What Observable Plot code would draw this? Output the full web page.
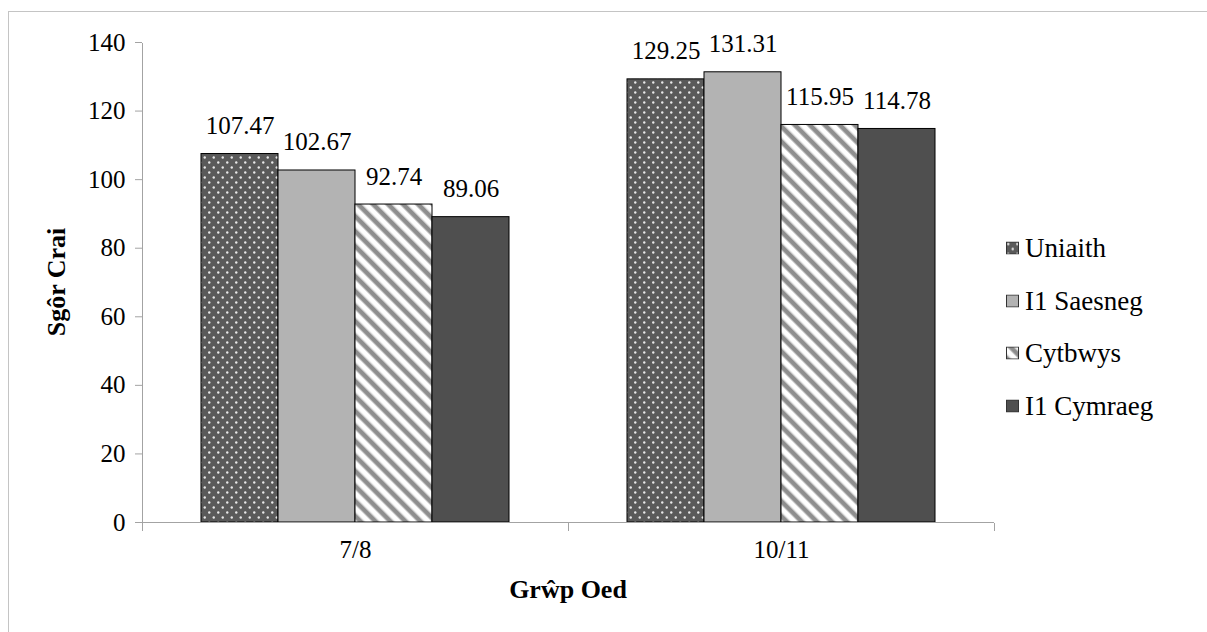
<!DOCTYPE html>
<html>
<head>
<meta charset="utf-8">
<script src="https://cdn.jsdelivr.net/npm/d3@7"></script>
<script src="https://cdn.jsdelivr.net/npm/@observablehq/plot@0.6"></script>
</head>
<body style="margin:0;background:#fff">
<div id="border" style="position:absolute;left:8px;top:11px;width:1300px;height:700px;border-left:1px solid #c4c4c4;border-top:1px solid #c4c4c4"></div>
<div id="chart" style="position:absolute;left:0;top:0"></div>
<div id="legend" style="position:absolute;left:1006px;top:0"></div>
<script>
// Age groups, language-background series and raw scores
const groups = ["7/8", "10/11"];
const series = ["Uniaith", "I1 Saesneg", "Cytbwys", "I1 Cymraeg"];
const scores78 = [107.47, 102.67, 92.74, 89.06];
const scores1011 = [129.25, 131.31, 115.95, 114.78];
const yTicks = [0, 20, 40, 60, 80, 100, 120, 140];

// Fill for each series (patterns are defined below in <defs>)
const fills = ["url(#pat-uniaith)", "#b3b3b3", "url(#pat-cytbwys)", "#4f4f4f"];
const axisGray = "#a3a3a3";
const serif = '"Liberation Serif"';

const rows = [
  ...series.map((s, i) => ({group: groups[0], series: s, value: scores78[i]})),
  ...series.map((s, i) => ({group: groups[1], series: s, value: scores1011[i]}))
];

// Axis lines plus the category boundary ticks below the baseline
const frameLines = Plot.ruleY(groups, {
  fx: d => d,
  y: () => 0,
  stroke: axisGray,
  render(index, scales, values, dims, context, next) {
    const g = next(index, scales, values, dims, context);
    const {marginLeft, marginRight, marginTop, marginBottom, width, height} = dims;
    const yb = height - marginBottom;
    const isFirst = groups[index[0]] === groups[0];
    const add = (x1, y1, x2, y2) => {
      const l = document.createElementNS("http://www.w3.org/2000/svg", "line");
      l.setAttribute("x1", x1); l.setAttribute("y1", y1);
      l.setAttribute("x2", x2); l.setAttribute("y2", y2);
      l.setAttribute("stroke", axisGray);
      l.setAttribute("shape-rendering", "crispEdges");
      g.appendChild(l);
    };
    if (isFirst) add(marginLeft, marginTop, marginLeft, yb + 8);
    add(width - marginRight, yb, width - marginRight, yb + 8);
    return g;
  }
});

const chart = Plot.plot({
  width: 1000,
  height: 632,
  marginLeft: 142,
  marginRight: 6,
  marginTop: 42,
  marginBottom: 110,
  style: {fontSize: "25px", color: "#000", background: "transparent", overflow: "visible"},
  fx: {domain: groups, padding: 0},
  x: {domain: series, paddingInner: 0, paddingOuter: 0.766, axis: null},
  y: {domain: [0, 140]},
  color: {domain: series, range: fills},
  marks: [
    Plot.barY(rows, {fx: "group", x: "series", y: "value", fill: "series", stroke: "#000", strokeWidth: 1}),
    Plot.text(rows, {fx: "group", x: "series", y: "value", text: d => d.value.toFixed(2),
                     dy: -28, lineAnchor: "middle", fontSize: 25, fill: "#000"}),
    Plot.axisY({ticks: yTicks, tickSize: 7, tickPadding: 10, stroke: axisGray, fill: "#000",
                fontSize: 25, label: null, tickFormat: d => String(d)}),
    Plot.axisFx({anchor: "bottom", tickSize: 0, tickPadding: 18, fontSize: 25, fill: "#000", label: null}),
    frameLines
  ]
});

const defs = `
<pattern id="pat-uniaith" width="9" height="10" patternUnits="userSpaceOnUse">
  <rect width="9" height="10" fill="#5a5a5a"/>
  <circle cx="2.25" cy="2.5" r="1.2" fill="#e8e8e8"/>
  <circle cx="6.75" cy="7.5" r="1.2" fill="#e8e8e8"/>
</pattern>
<pattern id="pat-cytbwys" width="10.6" height="10.6" patternUnits="userSpaceOnUse" patternTransform="rotate(-45)">
  <rect width="10.6" height="10.6" fill="#ffffff"/>
  <rect x="0" width="1" height="10.6" fill="#c4c4c4"/>
  <rect x="1" width="4" height="10.6" fill="#8e8e8e"/>
  <rect x="5" width="1" height="10.6" fill="#c4c4c4"/>
</pattern>`;
const d = document.createElementNS("http://www.w3.org/2000/svg", "defs");
d.innerHTML = defs;
chart.insertBefore(d, chart.firstChild);
document.getElementById("chart").appendChild(chart);

// Axis titles
function title(text, left, top, rotate) {
  const el = document.createElement("div");
  el.textContent = text;
  el.style.position = "absolute";
  el.style.left = left + "px";
  el.style.top = top + "px";
  el.style.fontFamily = serif;
  el.style.fontWeight = "bold";
  el.style.fontSize = "26px";
  el.style.whiteSpace = "nowrap";
  el.style.transform = "translate(-50%, -50%)" + (rotate ? " rotate(-90deg)" : "");
  document.body.appendChild(el);
}
title("Grŵp Oed", 568, 590, false);
title("Sgôr Crai", 57, 282, true);

// Legend: swatch plus series name, stacked on the right
const legend = document.getElementById("legend");
const rowY = [248, 301, 353, 406];
series.forEach((s, i) => {
  const item = document.createElement("div");
  item.style.cssText = "position:absolute;left:0;display:flex;align-items:center;white-space:nowrap;font-size:27px;transform:translateY(-50%)";
  item.style.top = rowY[i] + "px";
  item.style.fontFamily = serif;
  item.innerHTML = `<svg width="13" height="13" style="margin-right:6px"><rect x="0.5" y="0.5" width="12" height="12" fill="${fills[i]}" stroke="#333"/></svg><span>${s}</span>`;
  legend.appendChild(item);
});

// Serif typeface for the chart's own text
chart.style.fontFamily = serif;
chart.querySelectorAll("text").forEach(t => t.style.fontFamily = serif);
</script>
</body>
</html>
